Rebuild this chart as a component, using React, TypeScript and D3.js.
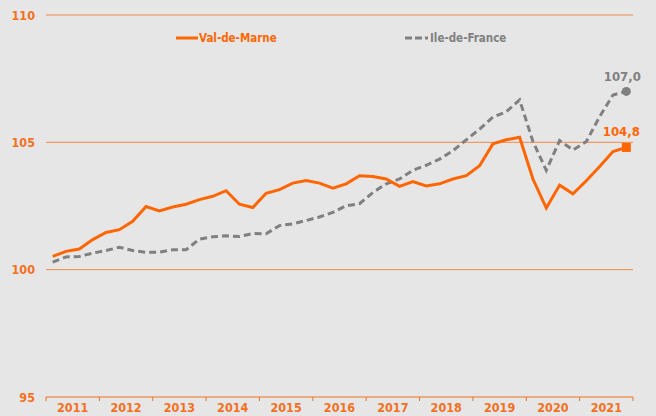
import React from "react";
import * as d3 from "d3";

const years = ["2011","2012","2013","2014","2015","2016","2017","2018","2019","2020","2021"];
const quarters = ["T1","T2","T3","T4"];
const periods = years.flatMap((y) => quarters.map((q) => `${y}-${q}`));

const valDeMarne = [
  100.52, 100.72, 100.81, 101.18, 101.46, 101.57, 101.9, 102.48, 102.31, 102.46, 102.57,
  102.75, 102.88, 103.1, 102.57, 102.44, 103.0, 103.14, 103.4, 103.5, 103.4, 103.2,
  103.37, 103.69, 103.66, 103.56, 103.27, 103.46, 103.29, 103.37, 103.56, 103.69,
  104.08, 104.94, 105.1, 105.2, 103.56, 102.42, 103.32, 102.98, 103.49, 104.05, 104.64, 104.8,
];
const ileDeFrance = [
  100.3, 100.5, 100.52, 100.65, 100.75, 100.88, 100.75, 100.68, 100.69, 100.78, 100.78,
  101.2, 101.29, 101.33, 101.3, 101.42, 101.41, 101.73, 101.8, 101.93, 102.07, 102.25,
  102.51, 102.59, 103.03, 103.37, 103.56, 103.9, 104.1, 104.34, 104.67, 105.1,
  105.52, 105.99, 106.2, 106.67, 105.03, 103.9, 105.07, 104.7, 105.03, 106.01, 106.86, 107.0,
];
const yTicks = [95, 100, 105, 110];
const seriesNames = ["Val-de-Marne", "Ile-de-France"];

const W = 656, H = 416;
const ORANGE = "#FF6600";
const GRID = "#F28A45";
const AXIS = "#F07020";
const LABEL = "#F4701E";
const GRAY = "#808080";
const FONT = "'DejaVu Sans Condensed', 'DejaVu Sans', sans-serif";

export default function App() {
  const x0 = 46, x1 = 633;
  const band = d3.scaleBand<string>().domain(periods).range([x0, x1]).padding(0);
  const yearBand = d3.scaleBand<string>().domain(years).range([x0, x1]).padding(0);
  const y = d3.scaleLinear().domain([95, 110]).range([397, 15]);
  const px = (i: number) => (band(periods[i]) as number) + band.bandwidth() / 2;

  const line = d3
    .line<number>()
    .x((_, i) => px(i))
    .y((d) => y(d))
    .curve(d3.curveLinear);

  const last = periods.length - 1;

  return (
    <svg
      width={W}
      height={H}
      style={{ position: "absolute", left: 0, top: 0, background: "#E6E6E6" }}
      fontFamily={FONT}
    >
      <rect x={0} y={0} width={W} height={H} fill="#E6E6E6" />
      {yTicks.map((t) => (
        <g key={t}>
          {t !== 95 && (
            <line x1={x0} x2={x1} y1={y(t)} y2={y(t)} stroke={GRID} strokeWidth={1} />
          )}
          <text
            x={35}
            y={y(t) + 4.5}
            textAnchor="end"
            fontSize={12.5}
            fontWeight="bold"
            fill={LABEL}
          >
            {t}
          </text>
        </g>
      ))}
      {/* x axis */}
      <line x1={x0} x2={x1} y1={y(95)} y2={y(95)} stroke={AXIS} strokeWidth={1.2} />
      {years.map((yr) => (
        <line
          key={"t" + yr}
          x1={yearBand(yr) as number}
          x2={yearBand(yr) as number}
          y1={y(95)}
          y2={y(95) + 4}
          stroke={AXIS}
          strokeWidth={1}
        />
      ))}
      <line x1={x1} x2={x1} y1={y(95)} y2={y(95) + 4} stroke={AXIS} strokeWidth={1} />
      {years.map((yr) => (
        <text
          key={yr}
          x={(yearBand(yr) as number) + yearBand.bandwidth() / 2}
          y={412}
          textAnchor="middle"
          fontSize={12.5}
          fontWeight="bold"
          fill={LABEL}
        >
          {yr}
        </text>
      ))}

      {/* series */}
      <path
        d={line(ileDeFrance) as string}
        fill="none"
        stroke={GRAY}
        strokeWidth={3}
        strokeDasharray="7,4"
      />
      <path d={line(valDeMarne) as string} fill="none" stroke={ORANGE} strokeWidth={3} />

      {/* end markers */}
      <circle cx={px(last)} cy={y(ileDeFrance[last])} r={4.5} fill={GRAY} />
      <rect
        x={px(last) - 4.5}
        y={y(valDeMarne[last]) - 4.5}
        width={9}
        height={9}
        fill={ORANGE}
      />
      <text
        x={px(last) - 4}
        y={y(ileDeFrance[last]) - 10}
        textAnchor="middle"
        fontSize={13}
        fontWeight="bold"
        fill={GRAY}
      >
        {d3.format(".1f")(ileDeFrance[last]).replace(".", ",")}
      </text>
      <text
        x={px(last) - 5}
        y={y(valDeMarne[last]) - 11}
        textAnchor="middle"
        fontSize={13}
        fontWeight="bold"
        fill={ORANGE}
      >
        {d3.format(".1f")(valDeMarne[last]).replace(".", ",")}
      </text>

      {/* legend */}
      <line x1={176} x2={198} y1={38} y2={38} stroke={ORANGE} strokeWidth={3} />
      <text x={199} y={42} fontSize={11.5} fontWeight="bold" fill={ORANGE}>
        {seriesNames[0]}
      </text>
      <line
        x1={405}
        x2={428}
        y1={38}
        y2={38}
        stroke={GRAY}
        strokeWidth={3}
        strokeDasharray="7,3"
      />
      <text x={430} y={42} fontSize={11.5} fontWeight="bold" fill={GRAY}>
        {seriesNames[1]}
      </text>
    </svg>
  );
}
